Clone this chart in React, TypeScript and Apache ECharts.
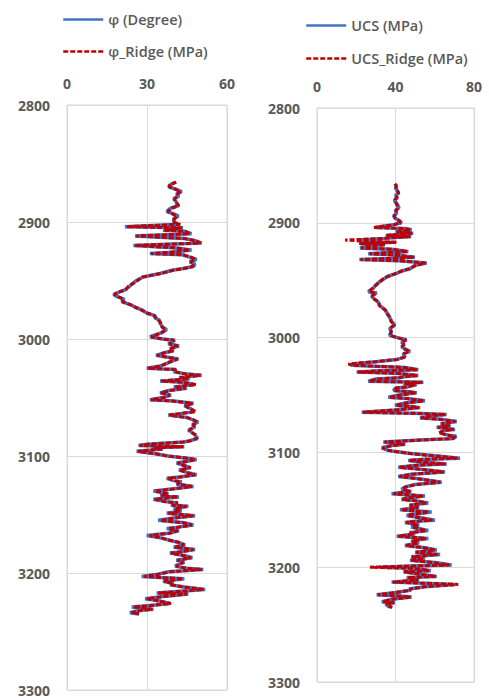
import React, { useEffect, useRef } from "react";
import * as echarts from "echarts";

// Depth (m) sampled for the friction-angle log
const depthPhi = [
  2866, 2868, 2870, 2872, 2874, 2876, 2878, 2880, 2883, 2886,
  2888, 2891, 2893, 2895, 2897, 2900, 2902, 2904, 2905, 2907,
  2908, 2910, 2912, 2914, 2916, 2918, 2920, 2922, 2924, 2926,
  2927, 2928, 2930, 2932, 2934, 2936, 2938, 2940, 2941, 2944,
  2947, 2950, 2952, 2955, 2958, 2960, 2962, 2964, 2966, 2968,
  2971, 2973, 2975, 2978, 2980, 2982, 2984, 2987, 2990, 2992,
  2995, 2998, 3000, 3001, 3004, 3006, 3008, 3010, 3012, 3014,
  3016, 3017, 3019, 3021, 3023, 3025, 3026, 3028, 3030, 3031,
  3033, 3034, 3036, 3037, 3039, 3041, 3042, 3044, 3046, 3048,
  3050, 3052, 3053, 3055, 3057, 3059, 3062, 3064, 3065, 3067,
  3069, 3071, 3073, 3075, 3078, 3080, 3082, 3085, 3087, 3088,
  3090, 3091, 3092, 3093, 3094, 3096, 3098, 3100, 3102, 3103,
  3105, 3106, 3108, 3110, 3112, 3114, 3116, 3118, 3119, 3121,
  3122, 3124, 3126, 3128, 3130, 3132, 3134, 3135, 3137, 3139,
  3140, 3142, 3143, 3145, 3147, 3149, 3151, 3153, 3155, 3157,
  3159, 3161, 3162, 3164, 3166, 3168, 3170, 3172, 3174, 3176,
  3178, 3180, 3182, 3183, 3185, 3187, 3189, 3191, 3194, 3196,
  3197, 3199, 3201, 3203, 3205, 3207, 3209, 3210, 3212, 3214,
  3216, 3217, 3218, 3220, 3222, 3224, 3226, 3228, 3229, 3231,
  3232, 3234, 3235,
];

// Friction angle φ (degree)
const phiDegree = [
  40.5, 39, 38, 41, 43, 41, 42, 40, 41, 41.8,
  39, 37.4, 40, 41.8, 40, 40, 42, 21.7, 43.5, 36,
  44, 46.7, 25.5, 44, 48, 50.5, 24.9, 40, 46.7, 38,
  31.1, 43.5, 46, 48.6, 46, 48, 47.5, 43, 39.9, 34.9,
  28.6, 26, 24.9, 23.5, 21.7, 19.5, 17.4, 19, 21.5, 20.5,
  24.3, 25.5, 28, 30, 33, 33, 34.7, 35, 36, 37.4,
  35, 31.1, 36, 40.5, 38, 42, 38.6, 40, 36, 33.4,
  39, 41.8, 39, 37.4, 35, 29.9, 41, 40, 45, 50.5,
  42, 46, 34.9, 44, 48, 40, 45, 38.2, 34.9, 39,
  36, 31.1, 40, 47.4, 44, 46, 47.9, 42, 38, 45,
  47, 49.2, 47, 48, 45.5, 47, 48, 49, 46, 43.9,
  30, 26.8, 44, 32, 36, 26.1, 33, 38, 45, 48.6,
  44, 41.1, 44, 46, 42, 45, 48.6, 42, 37.4, 40,
  43, 41, 47.4, 40, 32.4, 38, 35, 42, 32.4, 37,
  41.2, 39, 45.5, 40, 43, 37.4, 48, 40, 34.2, 44,
  47.4, 41, 37.4, 42, 38, 29.9, 35, 38.6, 42, 44.3,
  40, 48, 42, 38.6, 44, 47, 41, 44, 40.5, 45,
  51.1, 38, 34, 28, 44, 36, 40, 38.6, 44, 51.8,
  40, 33.6, 45.5, 36, 29.3, 35, 38.6, 30, 24.3, 32.4,
  27, 23.6, 27,
];

// Ridge-regression prediction of φ
const phiRidge = [
  41, 38.5, 38.5, 40.5, 42.5, 41.5, 41.5, 40.5, 40.5, 42,
  39.5, 37.8, 39.5, 41.2, 40.5, 39.6, 42.5, 22.5, 43, 36.5,
  44.5, 46, 26, 43.5, 48.5, 50, 25.5, 40.5, 46, 38.5,
  31.5, 43, 46.5, 48, 46.5, 47.5, 47, 43.5, 40.2, 35.3,
  28.2, 26.5, 25.2, 23, 22, 19.2, 17.8, 19.4, 21.1, 20.8,
  24, 25.9, 27.6, 30.4, 32.6, 33.4, 34.3, 35.4, 35.6, 37,
  35.4, 31.6, 35.6, 40.1, 38.4, 41.6, 39, 39.6, 36.4, 33.8,
  38.6, 41.4, 39.4, 37, 35.4, 30.4, 40.6, 40.4, 44.6, 50,
  42.4, 45.6, 35.3, 43.6, 48.4, 40.4, 44.6, 38.6, 35.3, 38.6,
  36.4, 31.5, 39.6, 47, 44.4, 45.6, 48.3, 41.6, 38.4, 44.6,
  47.4, 48.8, 47.4, 47.6, 45.9, 46.6, 48.4, 48.6, 46.4, 43.5,
  30.5, 27.3, 43.6, 32.5, 35.6, 26.6, 33.4, 37.6, 45.4, 48.2,
  44.4, 41.5, 43.6, 46.4, 42.4, 44.6, 48, 42.4, 38, 40.4,
  42.6, 41.4, 46.8, 40.5, 33, 37.6, 35.5, 41.5, 33, 36.6,
  41.6, 39.5, 44.8, 40.5, 42.5, 38, 47.4, 40.5, 35, 43.5,
  46.8, 41.5, 38, 41.5, 38.5, 31, 35.5, 38.2, 42.5, 43.8,
  40.5, 47.4, 42.5, 39, 43.5, 46.5, 41.5, 43.5, 41, 44.5,
  50.6, 38.5, 34.6, 29, 43.5, 36.5, 39.5, 39, 43.5, 51.2,
  40.5, 34.2, 45, 36.5, 30, 34.5, 39, 30.6, 25, 32,
  27.5, 24.2, 27.4,
];

// Depth (m) sampled for the UCS log
const depthUcs = [
  2866, 2868, 2870, 2872, 2874, 2876, 2878, 2880, 2882, 2884,
  2887, 2889, 2892, 2894, 2896, 2898, 2900, 2902, 2904, 2905,
  2906, 2908, 2909, 2911, 2912, 2914, 2915, 2916, 2917, 2918,
  2919, 2920, 2922, 2923, 2925, 2926, 2927, 2928, 2930, 2931,
  2932, 2933, 2935, 2937, 2940, 2942, 2944, 2947, 2949, 2951,
  2954, 2957, 2960, 2961, 2964, 2966, 2969, 2972, 2976, 2980,
  2983, 2986, 2989, 2992, 2995, 2998, 3000, 3002, 3004, 3006,
  3008, 3010, 3012, 3014, 3017, 3019, 3021, 3023, 3024, 3025,
  3026, 3028, 3029, 3030, 3031, 3033, 3034, 3035, 3036, 3038,
  3039, 3040, 3041, 3043, 3044, 3046, 3047, 3048, 3050, 3052,
  3053, 3055, 3057, 3059, 3060, 3061, 3063, 3065, 3066, 3067,
  3068, 3070, 3071, 3073, 3075, 3077, 3078, 3080, 3081, 3083,
  3085, 3086, 3088, 3089, 3091, 3093, 3094, 3096, 3098, 3099,
  3101, 3103, 3105, 3106, 3107, 3109, 3110, 3111, 3113, 3115,
  3117, 3119, 3121, 3123, 3126, 3128, 3130, 3132, 3134, 3136,
  3138, 3140, 3141, 3142, 3144, 3146, 3148, 3150, 3152, 3154,
  3155, 3157, 3159, 3160, 3161, 3163, 3165, 3168, 3170, 3171,
  3173, 3175, 3177, 3179, 3181, 3183, 3185, 3187, 3189, 3191,
  3193, 3194, 3196, 3198, 3199, 3200, 3201, 3203, 3204, 3206,
  3208, 3209, 3211, 3213, 3214, 3215, 3217, 3219, 3220, 3222,
  3224, 3225, 3226, 3228, 3230, 3231, 3232, 3234, 3235,
];

// Uniaxial compressive strength (MPa)
const ucsMpa = [
  39.7, 40.5, 40, 41, 41.4, 40, 41, 39.5, 39.9, 41,
  41.8, 40, 40.5, 39, 39.7, 42, 43.1, 38, 29.6, 45,
  48.2, 40, 49, 35, 48, 30, 22, 25, 40, 21.9,
  34.6, 28, 21.9, 38, 46.5, 35, 26.1, 40, 49.9, 38,
  21.6, 42, 55.9, 50, 47.4, 43, 40.6, 35.5, 34, 32.1,
  30, 28.7, 26.1, 30.4, 27.8, 29, 31.2, 32, 34.6, 36.3,
  37.2, 38, 39.7, 37, 38, 36.9, 41, 45.7, 43, 44.5,
  43.1, 45, 47.4, 44, 44.9, 40.6, 30, 18, 17.5, 30,
  45, 51.6, 30, 20.2, 40, 51.6, 44, 42.3, 30, 26.1,
  54.2, 44, 50.8, 45.7, 40, 38.9, 46, 50.8, 42, 36.3,
  46, 55, 45, 39.7, 48, 52.5, 40, 22.8, 50, 66.1,
  58, 52.5, 62, 71.2, 63, 68, 61, 70.3, 64, 62.7,
  67, 71, 69.5, 55, 33.8, 45, 38, 33, 36, 38.9,
  48, 60, 72.9, 55, 46.5, 58, 66.1, 52, 41.4, 55,
  65.2, 48, 41.4, 52, 63.5, 50, 45, 43, 48, 38,
  55, 45, 43.1, 50, 56.7, 47, 52, 42.3, 58.4, 48,
  45.7, 53, 60.1, 50, 44.8, 52, 48, 56.7, 47, 50,
  40.6, 56.7, 48, 52, 44.8, 55, 61, 50, 62.7, 48,
  55, 47.4, 60, 68.6, 48, 32, 50, 58, 44, 52,
  61, 45.7, 52, 38, 55, 70, 55, 47, 47.4, 40,
  30.4, 42, 48.2, 38, 33, 39.7, 35, 36.3, 38,
];

// Ridge-regression prediction of UCS
const ucsRidge = [
  40, 40.2, 40.4, 40.6, 41.8, 40.4, 40.6, 39.8, 40.2, 40.6,
  41.4, 40.4, 40.2, 39.4, 40, 41.6, 42.6, 38.5, 29, 44.5,
  47.6, 40.5, 48.5, 35.5, 47.5, 29.5, 14.3, 24.5, 40.5, 21.5,
  35, 28.5, 22.5, 37.5, 46, 35.5, 26.8, 39.5, 49.4, 38.5,
  22.2, 41.5, 55.2, 50.5, 47, 43.4, 40.2, 35.8, 33.6, 32.4,
  30.3, 28.4, 26.4, 30, 28.1, 28.7, 31.5, 31.7, 34.9, 36,
  37.5, 37.7, 39.4, 37.3, 37.7, 37.2, 40.6, 45.3, 43.3, 44.1,
  43.5, 44.6, 47, 44.3, 44.5, 41, 29.4, 16, 17.8, 30.6,
  44.5, 51, 30.5, 20.8, 39.5, 51, 44.4, 41.8, 30.6, 26.6,
  53.6, 44.5, 50.2, 45.3, 40.4, 39.3, 45.5, 50.2, 42.4, 36.8,
  45.5, 54.4, 45.5, 40.2, 47.5, 52, 40.5, 23.4, 49.5, 65.4,
  58.5, 53, 61.4, 70.5, 63.5, 67.5, 61.5, 69.6, 64.5, 62.2,
  66.5, 70.4, 69, 55.5, 34.4, 44.5, 38.5, 33.5, 35.6, 39.4,
  47.5, 59.4, 71.5, 55.5, 47, 57.5, 65.4, 52.5, 42, 54.5,
  64.5, 48.5, 42, 51.5, 62.8, 50.5, 45.5, 43.5, 47.5, 39,
  54, 45.5, 43.6, 49.5, 55.6, 47.5, 51.5, 43, 57, 48.5,
  46.2, 52.5, 58.8, 50.5, 45.5, 51.5, 48.5, 55.6, 47.5, 49.5,
  41.5, 55.5, 48.5, 51.5, 45.5, 54.5, 60, 50.5, 61.5, 48.5,
  54.5, 48, 59, 67.5, 48.5, 27, 49.5, 57, 44.5, 51.5,
  60.4, 46.3, 51.5, 38.6, 54.5, 72, 54.5, 47.5, 47.8, 40.5,
  31, 41.5, 47.6, 38.5, 33.6, 39.2, 35.5, 36.8, 38.4,
];

const seriesNames = ["φ (Degree)", "φ_Ridge (MPa)", "UCS (MPa)", "UCS_Ridge (MPa)"];

const BLUE = "#4472C4";
const RED = "#C00000";
const GRID_LINE = "#D9D9D9";
const LABEL = "#595959";
const FONT = "'Open Sans', 'Noto Sans', sans-serif";

const toPairs = (depths: number[], values: number[]) =>
  depths.map((d, i) => [values[i], d]);

const axisLabel = (margin: number) => ({
  color: LABEL,
  fontFamily: FONT,
  fontWeight: "bold" as const,
  fontSize: 14,
  margin,
  formatter: (v: number) => String(v),
});

const xAxisFor = (grid: number, max: number, interval: number) => ({
  type: "value" as const,
  gridIndex: grid,
  position: "top" as const,
  min: 0,
  max,
  interval,
  axisLine: { show: false },
  axisTick: { show: false },
  splitLine: { show: true, lineStyle: { color: GRID_LINE, width: 1 } },
  axisLabel: axisLabel(15),
});

const yAxisFor = (grid: number) => ({
  type: "value" as const,
  gridIndex: grid,
  inverse: true,
  min: 2800,
  max: 3300,
  interval: 100,
  axisLine: { show: false },
  axisTick: { show: false },
  splitLine: { show: true, lineStyle: { color: GRID_LINE, width: 1 } },
  axisLabel: axisLabel(17),
});

const solid = (name: string, idx: number, data: number[][]) => ({
  name,
  type: "line" as const,
  xAxisIndex: idx,
  yAxisIndex: idx,
  data,
  symbol: "none",
  lineStyle: { color: BLUE, width: 3.5 },
  itemStyle: { color: BLUE },
  z: 2,
});

const dashed = (name: string, idx: number, data: number[][]) => ({
  name,
  type: "line" as const,
  xAxisIndex: idx,
  yAxisIndex: idx,
  data,
  symbol: "none",
  lineStyle: { color: RED, width: 3, type: [5, 2] },
  itemStyle: { color: RED },
  z: 3,
});

const legendFor = (names: string[], left: number, top: number, gap: number) => ({
  data: names,
  orient: "vertical" as const,
  left,
  top,
  itemGap: gap,
  itemWidth: 40,
  itemHeight: 14,
  itemStyle: { opacity: 0 },
  lineStyle: { width: 2.5 },
  textStyle: { color: LABEL, fontFamily: FONT, fontSize: 14.5, fontWeight: 600 },
  selectedMode: false,
});

export default function App() {
  const ref = useRef<HTMLDivElement>(null);

  useEffect(() => {
    if (!ref.current) return;
    const chart = echarts.init(ref.current, undefined, { renderer: "svg" });
    chart.setOption({
      animation: false,
      backgroundColor: "#ffffff",
      legend: [
        legendFor([seriesNames[0], seriesNames[1]], 57, 7, 17),
        legendFor([seriesNames[2], seriesNames[3]], 300, 13, 18),
      ],
      grid: [
        { left: 67, top: 105, width: 160, height: 585, show: true, borderColor: GRID_LINE, borderWidth: 1 },
        { left: 317, top: 108, width: 157, height: 574, show: true, borderColor: GRID_LINE, borderWidth: 1 },
      ],
      xAxis: [xAxisFor(0, 60, 30), xAxisFor(1, 80, 40)],
      yAxis: [yAxisFor(0), yAxisFor(1)],
      series: [
        solid(seriesNames[0], 0, toPairs(depthPhi, phiDegree)),
        dashed(seriesNames[1], 0, toPairs(depthPhi, phiRidge)),
        solid(seriesNames[2], 1, toPairs(depthUcs, ucsMpa)),
        dashed(seriesNames[3], 1, toPairs(depthUcs, ucsRidge)),
      ],
    });
    return () => chart.dispose();
  }, []);

  return (
    <div
      ref={ref}
      style={{ position: "absolute", left: 0, top: 0, width: 489, height: 700, background: "#fff" }}
    />
  );
}
